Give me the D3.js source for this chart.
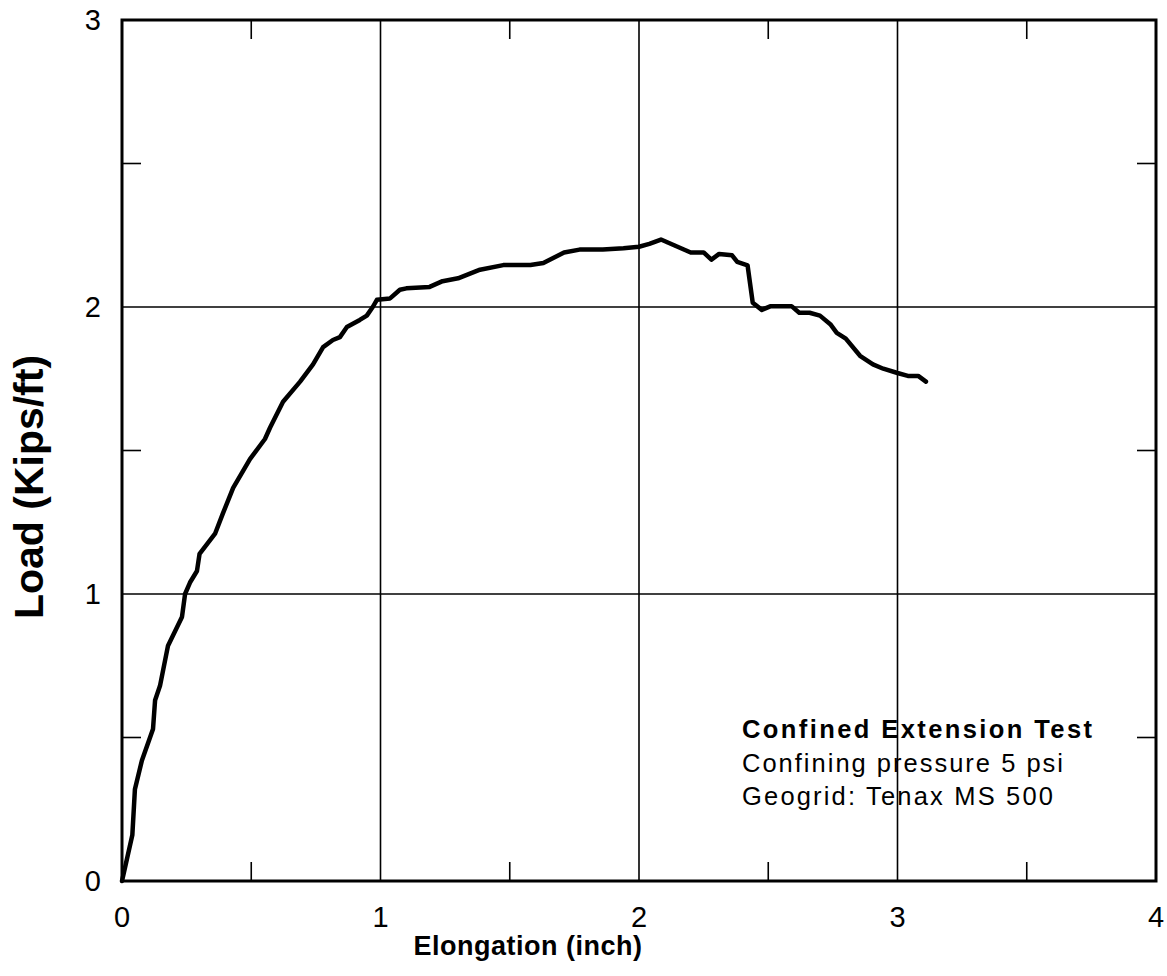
<!DOCTYPE html>
<html>
<head>
<meta charset="utf-8">
<script src="https://cdn.jsdelivr.net/npm/d3@7"></script>
<style>
  body { margin: 0; background: #fff; }
  svg { display: block; font-family: "Liberation Sans", Arial, Helvetica, sans-serif; }
</style>
</head>
<body>
<svg id="chart" width="1167" height="976"></svg>
<script>
// data
const elongation = [0, 0.02, 0.04, 0.05, 0.077, 0.12, 0.128, 0.147, 0.178, 0.232, 0.244, 0.263, 0.29, 0.30, 0.36, 0.39,
  0.43, 0.495, 0.553, 0.573, 0.623, 0.689, 0.739, 0.778, 0.816, 0.843, 0.87, 0.92, 0.947, 0.97, 0.986,
  1.037, 1.075, 1.10, 1.19, 1.24, 1.30, 1.385, 1.475, 1.58, 1.63, 1.71, 1.77, 1.86, 1.94,
  2.00, 2.04, 2.085, 2.20, 2.25, 2.28, 2.31, 2.36, 2.38, 2.42, 2.44, 2.475, 2.51, 2.59, 2.62, 2.66,
  2.70, 2.74, 2.765, 2.80, 2.855, 2.905, 2.945, 3.00, 3.04, 3.08, 3.11];
const load = [0, 0.08, 0.16, 0.32, 0.42, 0.53, 0.63, 0.68, 0.82, 0.92, 1.00, 1.04, 1.08, 1.14, 1.21, 1.28,
  1.37, 1.47, 1.54, 1.58, 1.67, 1.74, 1.80, 1.86, 1.885, 1.895, 1.93, 1.955, 1.97, 2.00, 2.025,
  2.03, 2.06, 2.065, 2.07, 2.09, 2.10, 2.13, 2.146, 2.146, 2.153, 2.19, 2.20, 2.20, 2.205,
  2.21, 2.22, 2.235, 2.19, 2.19, 2.165, 2.185, 2.18, 2.157, 2.145, 2.015, 1.99, 2.003, 2.003, 1.98, 1.98,
  1.97, 1.94, 1.91, 1.89, 1.83, 1.80, 1.785, 1.77, 1.76, 1.76, 1.74];

const xTicks = [0, 1, 2, 3, 4];
const yTicks = [0, 1, 2, 3];
const xMinor = [0.5, 1.5, 2.5, 3.5];
const yMinor = [0.5, 1.5, 2.5];
const noteLines = ["Confined Extension Test", "Confining pressure 5 psi", "Geogrid: Tenax MS 500"];

const svg = d3.select("#chart");

const plotLeft = 122, plotRight = 1156, plotTop = 20, plotBottom = 881;

const x = d3.scaleLinear().domain([0, 4]).range([plotLeft, plotRight]);
const y = d3.scaleLinear().domain([0, 3]).range([plotBottom, plotTop]);

// grid lines at the whole units
svg.append("g")
    .selectAll("line")
    .data(xTicks.slice(1, -1))
    .join("line")
    .attr("x1", d => x(d)).attr("x2", d => x(d))
    .attr("y1", plotTop).attr("y2", plotBottom)
    .attr("stroke", "#000").attr("stroke-width", 1.6);

svg.append("g")
    .selectAll("line")
    .data(yTicks.slice(1, -1))
    .join("line")
    .attr("x1", plotLeft).attr("x2", plotRight)
    .attr("y1", d => y(d)).attr("y2", d => y(d))
    .attr("stroke", "#000").attr("stroke-width", 1.6);

// inward minor ticks on all four sides
const tickLen = 19;
const minor = svg.append("g").attr("stroke", "#000").attr("stroke-width", 1.6);
minor.selectAll(".tb").data(xMinor).join("line").attr("class", "tb")
    .attr("x1", d => x(d)).attr("x2", d => x(d))
    .attr("y1", plotBottom).attr("y2", plotBottom - tickLen);
minor.selectAll(".tt").data(xMinor).join("line").attr("class", "tt")
    .attr("x1", d => x(d)).attr("x2", d => x(d))
    .attr("y1", plotTop).attr("y2", plotTop + tickLen);
minor.selectAll(".tl").data(yMinor).join("line").attr("class", "tl")
    .attr("x1", plotLeft).attr("x2", plotLeft + tickLen)
    .attr("y1", d => y(d)).attr("y2", d => y(d));
minor.selectAll(".tr").data(yMinor).join("line").attr("class", "tr")
    .attr("x1", plotRight).attr("x2", plotRight - tickLen)
    .attr("y1", d => y(d)).attr("y2", d => y(d));

// frame
svg.append("rect")
    .attr("x", plotLeft).attr("y", plotTop)
    .attr("width", plotRight - plotLeft).attr("height", plotBottom - plotTop)
    .attr("fill", "none").attr("stroke", "#000").attr("stroke-width", 3);

// tick labels
svg.append("g")
    .selectAll("text")
    .data(xTicks)
    .join("text")
    .attr("x", d => x(d))
    .attr("y", plotBottom + 46)
    .attr("text-anchor", "middle")
    .attr("font-size", 29)
    .text(d => d);

svg.append("g")
    .selectAll("text")
    .data(yTicks)
    .join("text")
    .attr("x", plotLeft - 21)
    .attr("y", d => y(d))
    .attr("dy", "0.36em")
    .attr("text-anchor", "end")
    .attr("font-size", 29)
    .text(d => d);

// axis titles
svg.append("text")
    .attr("x", 528).attr("y", 955)
    .attr("text-anchor", "middle")
    .attr("font-size", 27).attr("font-weight", "bold")
    .attr("letter-spacing", 0.5)
    .text("Elongation (inch)");

svg.append("text")
    .attr("transform", "translate(43,487) rotate(-90)")
    .attr("text-anchor", "middle")
    .attr("font-size", 41).attr("font-weight", "bold")
    .text("Load (Kips/ft)");

// the curve
const pts = elongation.map((e, i) => [e, load[i]]);
svg.append("path")
    .datum(pts)
    .attr("fill", "none")
    .attr("stroke", "#000")
    .attr("stroke-width", 4.5)
    .attr("stroke-linejoin", "round")
    .attr("stroke-linecap", "round")
    .attr("d", d3.line().x(d => x(d[0])).y(d => y(d[1])));

// test note
const noteWidths = [350, 321, 311];
svg.append("g")
    .selectAll("text")
    .data(noteLines)
    .join("text")
    .attr("x", 742)
    .attr("y", (d, i) => 738 + i * 33.5)
    .attr("font-size", 25.5)
    .attr("font-weight", (d, i) => i === 0 ? "bold" : "normal")
    .attr("textLength", (d, i) => noteWidths[i])
    .attr("lengthAdjust", "spacing")
    .text(d => d);
</script>
</body>
</html>
